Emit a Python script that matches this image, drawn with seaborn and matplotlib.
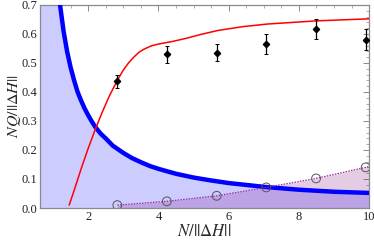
import numpy as np
import matplotlib
matplotlib.use("Agg")
import matplotlib.pyplot as plt
import seaborn as sns

# bound curve (thick blue)
bound_x = [1.05, 1.1, 1.15, 1.2, 1.25, 1.3, 1.4, 1.5, 1.6, 1.7, 1.8, 1.9, 2.0, 2.1, 2.2, 2.35, 2.5, 2.7,
           3.0, 3.25, 3.5, 3.75, 4.0, 4.5, 5.0, 5.5, 6.0, 7.0, 8.0, 9.0, 10.0]
bound_y = [0.90, 0.82, 0.755, 0.70, 0.655, 0.61, 0.54, 0.485, 0.44, 0.40, 0.37, 0.343, 0.32, 0.299, 0.28,
           0.257, 0.24, 0.215, 0.19, 0.172, 0.158, 0.145, 0.135, 0.118, 0.105, 0.095, 0.086, 0.073,
           0.063, 0.056, 0.052]

# theory curve (red)
theory_x = [1.46, 1.6, 1.8, 2.0, 2.2, 2.4, 2.6, 2.83, 3.0, 3.15, 3.3, 3.45, 3.6, 3.8, 4.0, 4.4, 4.8,
            5.2, 5.7, 6.4, 7.1, 8.5, 10.0]
theory_y = [0.01, 0.06, 0.135, 0.205, 0.27, 0.33, 0.385, 0.44, 0.475, 0.50, 0.52, 0.537, 0.548, 0.559,
            0.565, 0.574, 0.585, 0.598, 0.612, 0.625, 0.634, 0.645, 0.652]

# measured points with error bars
meas_x = [2.83, 4.24, 5.66, 7.07, 8.49, 9.90]
meas_y = [0.437, 0.530, 0.535, 0.565, 0.617, 0.580]
meas_err = [0.023, 0.029, 0.030, 0.034, 0.034, 0.037]

# open circles (purple dotted)
circ_x = [2.83, 4.24, 5.66, 7.07, 8.49, 9.90]
circ_y = [0.010, 0.023, 0.042, 0.071, 0.102, 0.140]
circ_end_x = 10.0
circ_end_y = 0.143

sns.set_style("ticks")
plt.rcParams["font.family"] = ["Liberation Serif", "DejaVu Serif"]
plt.rcParams["mathtext.fontset"] = "stix"

fig = plt.figure(figsize=(3.74, 2.45), dpi=100)
ax = fig.add_axes([0.107, 0.151, 0.88, 0.829])

ax.fill_between([0.6] + bound_x, [1.0] + bound_y, 0, color="#ccccff", lw=0, zorder=1)
px = circ_x + [circ_end_x]
py = circ_y + [circ_end_y]
ax.fill_between(px, py, 0, color="#800080", alpha=0.2, lw=0, zorder=2)

sns.lineplot(x=bound_x, y=bound_y, ax=ax, color="#0000ff", lw=3.2, zorder=3)
sns.lineplot(x=theory_x, y=theory_y, ax=ax, color="#ff0000", lw=1.1, zorder=4)
ax.plot(px, py, color="#9a2a9a", lw=0.9, ls=(0, (1.2, 1.0)), zorder=4)
sns.scatterplot(x=circ_x, y=circ_y, ax=ax, s=40, facecolor="none",
                edgecolor="#555555", linewidth=0.7, zorder=5)
ax.errorbar(meas_x, meas_y, yerr=meas_err, fmt="D", color="black", ms=3.2,
            elinewidth=0.9, capsize=1.5, capthick=0.7, zorder=6)

ax.set_xlim(0.63, 10)
ax.set_ylim(0, 0.7)
ax.set_xticks([2, 4, 6, 8, 10])
ax.set_xticks(np.arange(1.0, 10.01, 0.5), minor=True)
ax.set_yticks(np.arange(0, 0.71, 0.1))
ax.set_yticks(np.arange(0, 0.71, 0.02), minor=True)
ax.set_yticklabels([f"{v:.1f}" for v in np.arange(0, 0.71, 0.1)])

for s in ax.spines.values():
    s.set_color("#8a8a8a")
    s.set_linewidth(0.9)
ax.tick_params(which="both", direction="in", top=True, right=True, color="#8a8a8a",
               labelsize=9, labelcolor="#222222", pad=2)
ax.tick_params(which="major", length=4, width=0.7)
ax.tick_params(which="minor", length=2, width=0.5)

ax.set_xlabel(r"$N/||\Delta H||$", fontsize=12, labelpad=1)
ax.set_ylabel(r"$NQ/||\Delta H||$", fontsize=11.5)
ax.yaxis.set_label_coords(-0.053, 0.5)

fig.savefig("out.png", dpi=100)
